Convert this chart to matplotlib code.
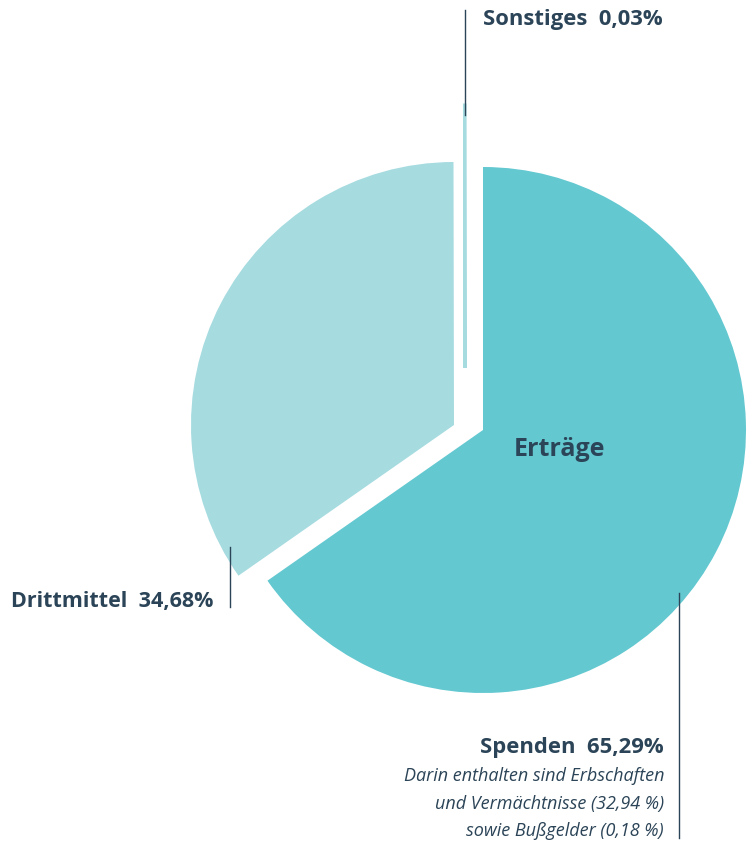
import matplotlib.pyplot as plt

# Ertragsanteile in Prozent
labels = ["Spenden", "Drittmittel", "Sonstiges"]
shares = [65.29, 34.68, 0.03]
colors = ["#63C8D0", "#A6DBE0", "#A6DBE0"]

# Pixel-Layout (x, y von oben), Mittelpunkt jedes Kuchenstücks
W, H = 749, 848
R = 263
wedge_centers = [(483, 430), (454, 425), (465, 368)]
dark = "#2B4457"

fig = plt.figure(figsize=(W / 100, H / 100), dpi=100)
ax = fig.add_axes([0, 0, 1, 1])

wedges, _ = ax.pie(shares, colors=colors, startangle=90, counterclock=False,
                   radius=R, center=(W / 2, H / 2), frame=True)
ax.set_xlim(0, W)
ax.set_ylim(0, H)
ax.axis("off")
for w, (cx, cy) in zip(wedges, wedge_centers):
    w.set_center((cx, H - cy))
    w.set_linewidth(0)
# winzigen Anteil sichtbar machen
wedges[2].set_edgecolor(colors[2])
wedges[2].set_linewidth(2.2)

font = ["Open Sans", "DejaVu Sans"]

# Mitte
ax.text(559, H - 450, "Erträge", ha="center", va="center", fontsize=18,
        fontweight="bold", color=dark, family=font)

# Sonstiges
ax.plot([465, 465], [H - 10, H - 115], color=dark, lw=1)
ax.text(483, H - 19, f"{labels[2]}  {shares[2]:.2f}%".replace(".", ","),
        ha="left", va="center", fontsize=15.8, fontweight="bold", color=dark, family=font)

# Drittmittel
ax.plot([230, 230], [H - 547, H - 607], color=dark, lw=1)
ax.text(213, H - 602, f"{labels[1]}  {shares[1]:.2f}%".replace(".", ","),
        ha="right", va="center", fontsize=15.5, fontweight="bold", color=dark, family=font)

# Spenden
ax.plot([679, 679], [H - 593, H - 838], color=dark, lw=1)
ax.text(664, H - 748, f"{labels[0]}  {shares[0]:.2f}%".replace(".", ","),
        ha="right", va="center", fontsize=15.8, fontweight="bold", color=dark, family=font)
notes = ["Darin enthalten sind Erbschaften",
         "und Vermächtnisse (32,94 %)",
         "sowie Bußgelder (0,18 %)"]
for i, line in enumerate(notes):
    ax.text(664, H - (776 + 27.5 * i), line, ha="right", va="center", fontsize=13,
            style="italic", color=dark, family=font)

fig.savefig("out.png", dpi=100)
